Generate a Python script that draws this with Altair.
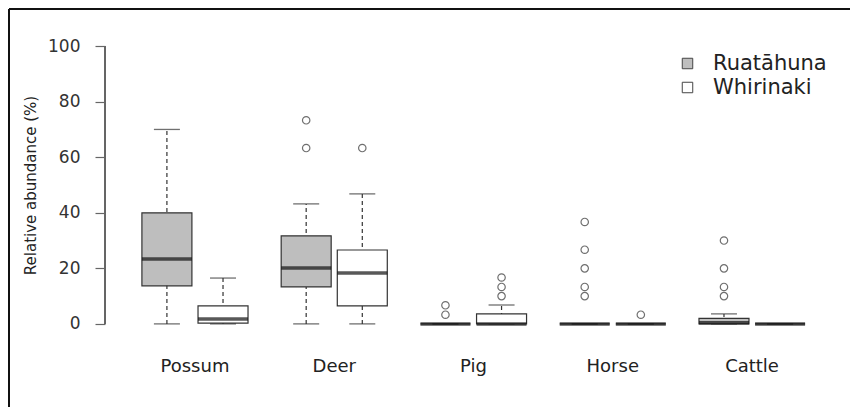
import altair as alt
import pandas as pd

categories = ["Possum", "Deer", "Pig", "Horse", "Cattle"]
sites = ["Ruatāhuna", "Whirinaki"]

# box statistics, order: (Possum R, Possum W, Deer R, Deer W, ...)
box_cat = ["Possum", "Possum", "Deer", "Deer", "Pig", "Pig", "Horse", "Horse", "Cattle", "Cattle"]
box_site = ["Ruatāhuna", "Whirinaki"] * 5
lower = [0, 0, 0, 0, 0, 0, 0, 0, 0, 0]
q1 = [13.7, 0.3, 13.3, 6.5, 0, 0, 0, 0, 0, 0]
median = [23.4, 1.8, 20.1, 18.3, 0, 0, 0, 0, 0.4, 0]
q3 = [40.0, 6.5, 31.7, 26.6, 0, 3.6, 0, 0, 2.0, 0]
upper = [70.0, 16.5, 43.2, 46.8, 0, 6.8, 0, 0, 3.6, 0]

out_cat = ["Deer", "Deer", "Deer", "Pig", "Pig", "Pig", "Pig", "Pig",
           "Horse", "Horse", "Horse", "Horse", "Horse", "Horse",
           "Cattle", "Cattle", "Cattle", "Cattle"]
out_site = ["Ruatāhuna", "Ruatāhuna", "Whirinaki", "Ruatāhuna", "Ruatāhuna",
            "Whirinaki", "Whirinaki", "Whirinaki",
            "Ruatāhuna", "Ruatāhuna", "Ruatāhuna", "Ruatāhuna", "Ruatāhuna", "Whirinaki",
            "Ruatāhuna", "Ruatāhuna", "Ruatāhuna", "Ruatāhuna"]
out_val = [73.3, 63.3, 63.3, 6.7, 3.3, 16.7, 13.3, 10.0,
           36.7, 26.7, 20.0, 13.3, 10.0, 3.3,
           30.0, 20.0, 13.3, 10.0]

y_ticks = [0, 20, 40, 60, 80, 100]

boxes = pd.DataFrame({"cat": box_cat, "site": box_site, "lower": lower, "q1": q1,
                      "median": median, "q3": q3, "upper": upper})
outl = pd.DataFrame({"cat": out_cat, "site": out_site, "value": out_val})

FONT = "DejaVu Sans"
INK = "#333333"

x_enc = alt.X("cat:N", sort=categories,
              scale=alt.Scale(paddingInner=0, paddingOuter=0.146),
              axis=alt.Axis(title=None, domain=False, ticks=False, tickSize=0,
                            labelPadding=22, labelFontSize=18, labelFont=FONT,
                            labelColor="#222222", labelAngle=0))
xo_enc = alt.XOffset("site:N", sort=sites,
                     scale=alt.Scale(paddingInner=0, paddingOuter=0.241))

yscale = alt.Scale(domain=[-4, 104], nice=False, zero=False)
yaxis = alt.Axis(title="Relative abundance (%)", values=y_ticks, domain=False, grid=False,
                 tickSize=10, tickColor="#666666", tickWidth=1.2,
                 labelPadding=15, labelFontSize=17, labelFont=FONT, labelColor="#333333",
                 titleFont=FONT, titleFontSize=15, titleFontWeight="normal",
                 titleColor="#222222", titleX=-75, titleY=150, titleAngle=-90,
                 titleAlign="center", titleBaseline="middle")


def Y(field):
    return alt.Y(field, type="quantitative", scale=yscale, axis=yaxis)


base = alt.Chart(boxes)

whisker = base.mark_rule(color=INK, strokeDash=[4, 3], strokeWidth=1.2).encode(
    x=x_enc, xOffset=xo_enc, y=Y("lower"), y2="upper")

cap_lo = base.mark_tick(color=INK, size=26, thickness=1.3).encode(
    x=x_enc, xOffset=xo_enc, y=Y("lower"))
cap_hi = base.mark_tick(color=INK, size=26, thickness=1.3).encode(
    x=x_enc, xOffset=xo_enc, y=Y("upper"))

box = base.mark_bar(size=50, stroke=INK, strokeWidth=1.2).encode(
    x=x_enc, xOffset=xo_enc, y=Y("q1"), y2="q3",
    fill=alt.Fill("site:N", sort=sites,
                  scale=alt.Scale(domain=sites, range=["#bebebe", "#ffffff"]),
                  legend=alt.Legend(title=None, orient="none", legendX=572, legendY=18,
                                    symbolType="square", symbolSize=110,
                                    symbolStrokeColor="#444444", symbolStrokeWidth=1,
                                    labelFont=FONT, labelFontSize=21, labelColor="#222222",
                                    labelOffset=15, rowPadding=2, padding=0)))

med = base.mark_tick(color="#111111", size=50, thickness=3.5).encode(
    x=x_enc, xOffset=xo_enc, y=Y("median"))

pts = alt.Chart(outl).mark_point(shape="circle", filled=False, size=55,
                                 color=INK, strokeWidth=1.2).encode(
    x=x_enc, xOffset=xo_enc, y=Y("value"))

axis_line = alt.Chart(boxes).mark_rule(color="#666666", strokeWidth=1.2).encode(
    x=alt.value(0), y=alt.datum(0, scale=yscale, axis=yaxis), y2=alt.datum(100))

frame_top = alt.Chart(boxes).mark_rule(color="#111111", strokeWidth=2).encode(
    x=alt.value(-96), x2=alt.value(745), y=alt.value(-26))
frame_left = alt.Chart(boxes).mark_rule(color="#111111", strokeWidth=2).encode(
    x=alt.value(-96), y=alt.value(-26), y2=alt.value(372))

chart = alt.layer(whisker, cap_lo, cap_hi, box, med, pts, axis_line, frame_top, frame_left).properties(
    width=737, height=300,
    autosize=alt.AutoSizeParams(type="none"),
    padding={"left": 97, "top": 27, "right": 8, "bottom": 72},
).configure_view(stroke=None)

chart.save("out.html", embed_options={"renderer": "svg", "actions": False})
